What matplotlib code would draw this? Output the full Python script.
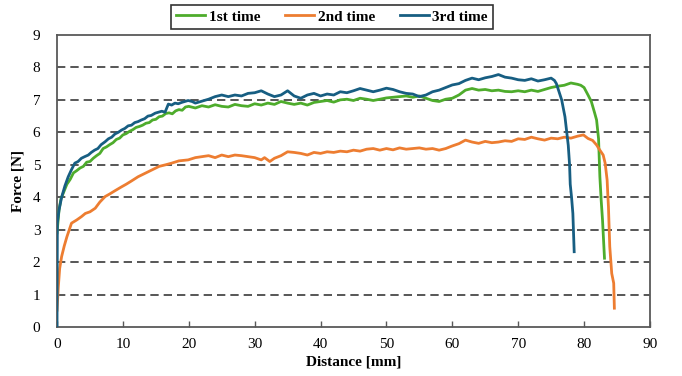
import matplotlib
matplotlib.use("Agg")
import matplotlib.pyplot as plt

# ---- data ----
d1 = [0, 0.3, 0.6, 1, 1.5, 2, 2.5, 3, 3.5, 4, 4.5, 5, 5.5, 6, 6.5, 7, 7.5, 8, 8.5, 9, 9.5,
      10, 10.5, 11, 11.5, 12, 12.5, 13, 13.5, 14, 14.5, 15, 15.5, 16, 16.5, 17, 17.5, 18,
      18.5, 19, 19.5, 20, 21, 22, 23, 24, 25, 26, 27, 28, 29, 30, 31, 32, 33, 34, 35, 36,
      37, 38, 39, 40, 41, 42, 43, 44, 45, 46, 47, 48, 49, 50, 51, 52, 53, 54, 55, 56, 57,
      58, 59, 60, 61, 62, 63, 64, 65, 66, 67, 68, 69, 70, 71, 72, 73, 74, 75, 76, 77, 78,
      79, 79.5, 80, 80.6, 81.1, 81.6, 81.9, 82.2, 82.4, 82.6, 82.8, 83.1]
f1 = [2.9, 3.6, 3.95, 4.15, 4.4, 4.55, 4.75, 4.82, 4.9, 4.95, 5.08, 5.1, 5.2, 5.28, 5.35,
      5.5, 5.55, 5.62, 5.68, 5.78, 5.82, 5.92, 5.96, 6.03, 6.08, 6.15, 6.18, 6.22, 6.28,
      6.3, 6.38, 6.4, 6.48, 6.5, 6.58, 6.6, 6.57, 6.66, 6.7, 6.68, 6.78, 6.8, 6.75, 6.82,
      6.78, 6.85, 6.8, 6.78, 6.86, 6.82, 6.8, 6.88, 6.84, 6.9, 6.86, 6.95, 6.9, 6.86, 6.9,
      6.84, 6.92, 6.95, 6.98, 6.93, 7.0, 7.02, 6.98, 7.05, 7.02, 6.98, 7.02, 7.06, 7.08,
      7.1, 7.12, 7.08, 7.12, 7.05, 6.98, 6.95, 7.02, 7.05, 7.15, 7.3, 7.35, 7.3, 7.32,
      7.28, 7.3, 7.26, 7.25, 7.28, 7.25, 7.3, 7.26, 7.32, 7.38, 7.42, 7.45, 7.52, 7.48,
      7.45, 7.38, 7.15, 6.95, 6.6, 6.38, 5.8, 4.63, 3.9, 3.3, 2.12]

d2 = [0, 0.2, 0.4, 0.7, 1.1, 1.5, 2.2, 3, 3.7, 4.3, 5, 5.8, 6.5, 7.3, 8, 8.8, 9.8, 10.5,
      11.3, 12.3, 13, 14, 14.9, 15.5, 16.5, 17.4, 18.5, 19.9, 21, 22, 23, 24, 25, 26, 27,
      28, 29, 30, 31, 31.5, 32.3, 33, 34, 35, 36, 37, 38, 39, 40, 41, 42, 43, 44, 45, 46,
      47, 48, 49, 50, 51, 52, 53, 54, 55, 56, 57, 58, 59, 60, 61, 62, 63, 64, 65, 66, 67,
      68, 69, 70, 71, 72, 73, 74, 75, 76, 77, 78, 79, 79.9, 80.6, 81.3, 81.9, 82.4, 82.9,
      83.2, 83.5, 83.6, 83.7, 83.9, 84.2, 84.5, 84.6]
f2 = [0.52, 1.24, 1.8, 2.17, 2.5, 2.78, 3.2, 3.3, 3.4, 3.5, 3.55, 3.66, 3.85, 4.02, 4.1,
      4.2, 4.32, 4.4, 4.5, 4.63, 4.7, 4.8, 4.89, 4.95, 5.0, 5.05, 5.12, 5.15, 5.22, 5.25,
      5.28, 5.22, 5.3, 5.25, 5.3, 5.28, 5.25, 5.22, 5.15, 5.22, 5.1, 5.2, 5.28, 5.4, 5.38,
      5.35, 5.3, 5.38, 5.35, 5.4, 5.38, 5.42, 5.4, 5.45, 5.42, 5.48, 5.5, 5.45, 5.5, 5.46,
      5.52, 5.48, 5.5, 5.52, 5.48, 5.5, 5.45, 5.5, 5.58, 5.65, 5.76, 5.7, 5.66, 5.72, 5.68,
      5.7, 5.74, 5.72, 5.8, 5.78, 5.85, 5.8, 5.76, 5.82, 5.8, 5.85, 5.82, 5.88, 5.92, 5.81,
      5.75, 5.61, 5.45, 5.3, 5.05, 4.53, 4.1, 3.71, 2.48, 1.65, 1.35, 0.58]

d3 = [0, 0.05, 0.3, 0.7, 1.2, 1.7, 2.2, 2.7, 3.2, 3.7, 4.2, 4.75, 5.2, 5.7, 6.2, 6.7, 7.3,
      7.8, 8.3, 8.8, 9.3, 9.8, 10.3, 10.8, 11.3, 11.8, 12.3, 12.8, 13.3, 13.8, 14.3, 14.9,
      15.4, 15.9, 16.4, 16.9, 17.4, 17.9, 18.4, 18.9, 19.4, 19.9, 20.5, 21, 22, 23, 24, 25,
      26, 27, 28, 29, 30, 31, 32, 33, 34, 35, 36, 37, 38, 39, 40, 41, 42, 43, 44, 45, 46,
      47, 48, 49, 50, 51, 52, 53, 54, 55, 56, 57, 58, 59, 60, 61, 62, 63, 64, 65, 66, 67,
      68, 69, 70, 71, 72, 73, 74, 75, 75.5, 75.8, 76.2, 76.6, 77.1, 77.6, 77.8, 77.9, 78.1,
      78.3, 78.5]
f3 = [0.0, 3.2, 3.6, 4.0, 4.35, 4.63, 4.85, 5.05, 5.1, 5.2, 5.25, 5.3, 5.38, 5.45, 5.5,
      5.62, 5.71, 5.8, 5.85, 5.95, 6.0, 6.07, 6.12, 6.2, 6.22, 6.3, 6.33, 6.38, 6.42, 6.5,
      6.52, 6.59, 6.62, 6.65, 6.62, 6.87, 6.84, 6.9, 6.88, 6.92, 6.95, 6.98, 6.95, 6.9,
      6.96, 7.02, 7.1, 7.15, 7.1, 7.15, 7.12, 7.2, 7.22, 7.28, 7.18, 7.1, 7.15, 7.28, 7.12,
      7.05, 7.15, 7.2, 7.12, 7.18, 7.15, 7.25, 7.22, 7.28, 7.35, 7.3, 7.25, 7.3, 7.36, 7.32,
      7.25, 7.2, 7.18, 7.1, 7.15, 7.25, 7.3, 7.38, 7.46, 7.5, 7.6, 7.67, 7.62, 7.68, 7.72,
      7.78, 7.7, 7.67, 7.62, 7.6, 7.65, 7.58, 7.62, 7.67, 7.6, 7.5, 7.25, 7.0, 6.48, 5.6,
      5.0, 4.4, 4.0, 3.5, 2.32]

labels = ["1st time", "2nd time", "3rd time"]
colors = ["#4EAC2C", "#ED7D31", "#175E82"]
xticks = list(range(0, 91, 10))
yticks = list(range(0, 10))

plt.rcParams['font.family'] = ['Liberation Serif', 'DejaVu Serif']

fig = plt.figure(figsize=(6.82, 3.76), dpi=100)
ax = fig.add_axes([0.0836, 0.1303, 0.8694, 0.7767])

for y in yticks[1:-1]:
    ax.axhline(y, color="#3a3a3a", lw=1.2, ls=(0, (5, 3)), zorder=1)

for d, f, lab, c in zip([d1, d2, d3], [f1, f2, f3], labels, colors):
    ax.plot(d, f, color=c, lw=2.0, label=lab, zorder=3)

ax.set_xlim(0, 90)
ax.set_ylim(0, 9)
ax.set_xticks(xticks)
ax.set_yticks(yticks)
ax.tick_params(axis='x', direction='in', length=4, width=1, color="#595959",
               labelsize=11, pad=8)
ax.tick_params(axis='y', length=0, labelsize=11, pad=12)
for s in ax.spines.values():
    s.set_color("#595959")
    s.set_linewidth(1.3)

ax.set_xlabel("Distance [mm]", fontsize=11, fontweight='bold', labelpad=3)
ax.set_ylabel("Force [N]", fontsize=11, fontweight='bold', labelpad=6)

leg = fig.legend(loc='center', bbox_to_anchor=(0.487, 0.955), ncol=3, frameon=True,
                 fancybox=False, edgecolor='black', prop={'weight': 'bold', 'size': 11},
                 handlelength=1.9, columnspacing=1.6, handletextpad=0.25,
                 borderpad=0.35)
leg.get_frame().set_linewidth(1.2)

fig.savefig("out.png", dpi=100)
